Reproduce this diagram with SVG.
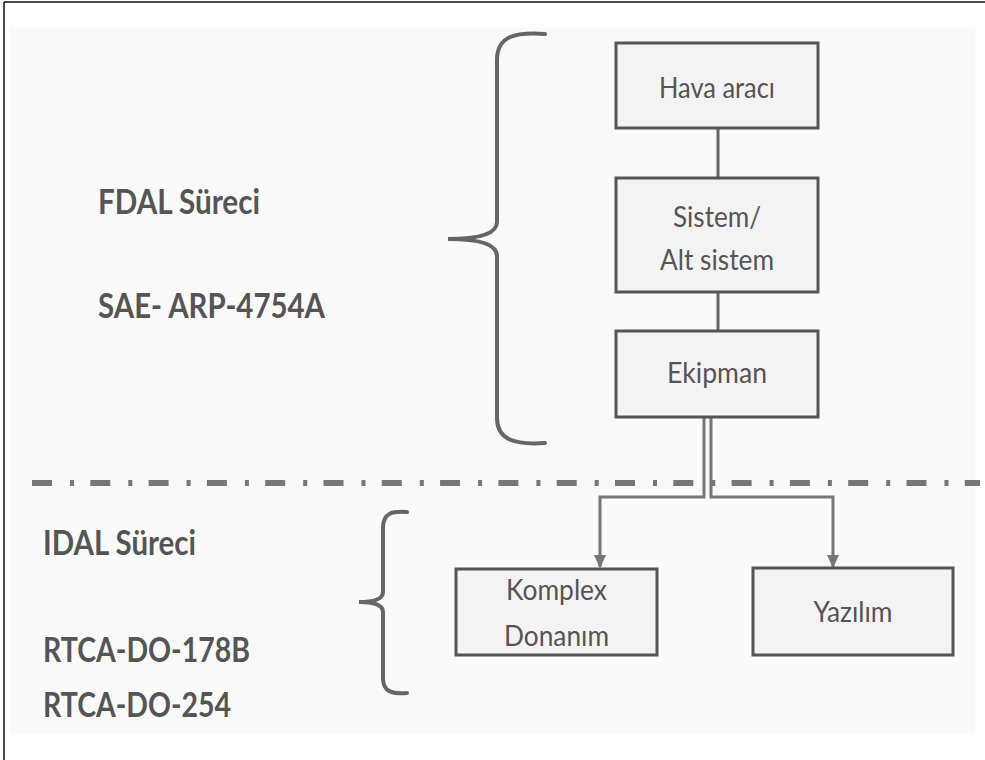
<svg xmlns="http://www.w3.org/2000/svg" width="985" height="760" viewBox="0 0 985 760">
<style>
.box{fill:#f3f3f3;stroke:#555;stroke-width:3}
.bt{font-family:Lato,"Open Sans","Liberation Sans",sans-serif;font-size:28.5px;fill:#555;text-anchor:middle}
.lbl{font-family:Lato,"Open Sans","Liberation Sans",sans-serif;font-weight:bold;font-size:35px;fill:#555}
.brace{fill:none;stroke:#666;stroke-width:4;stroke-linecap:round}
.conn{fill:none;stroke:#666;stroke-width:3}
.arr{fill:none;stroke:#777;stroke-width:3}
</style>
<defs>
<marker id="ah" markerUnits="userSpaceOnUse" markerWidth="14" markerHeight="14" viewBox="0 0 14 14" refX="12" refY="7" orient="auto">
<path d="M0,1 L13,7 L0,13 Z" fill="#777"/>
</marker>
</defs>
<rect x="0" y="0" width="985" height="760" fill="#ffffff"/>
<rect x="10" y="28" width="965" height="706" fill="#fafafa"/>
<line x1="4" y1="2" x2="4" y2="760" stroke="#111" stroke-width="1.5"/>
<line x1="4" y1="2" x2="985" y2="2" stroke="#111" stroke-width="1.5"/>
<line x1="32" y1="483" x2="980" y2="483" stroke="#777" stroke-width="6" stroke-dasharray="20 18 4 16.3"/>
<g id="brace-fdal"><path class="brace" d="M545,34 C515,32 497,36 497,60 L497,222 C497,234 480,239 448,239 C480,239 497,244 497,256 L497,418 C497,440 515,445 545,443"/></g>
<g id="brace-idal"><path class="brace" d="M407,512 C392,511 383,513 383,528 L383,592 C383,599 374,602 359,602 C374,602 383,605 383,612 L383,678 C383,692 392,694 407,693"/></g>
<g id="label-fdal"><text class="lbl" x="98" y="214" textLength="162" lengthAdjust="spacingAndGlyphs">FDAL Süreci</text><text class="lbl" x="98" y="318" textLength="227" lengthAdjust="spacingAndGlyphs">SAE- ARP-4754A</text></g>
<g id="label-idal"><text class="lbl" x="43" y="555" textLength="153" lengthAdjust="spacingAndGlyphs">IDAL Süreci</text><text class="lbl" x="43" y="662" textLength="207" lengthAdjust="spacingAndGlyphs">RTCA-DO-178B</text><text class="lbl" x="43" y="717" textLength="188" lengthAdjust="spacingAndGlyphs">RTCA-DO-254</text></g>
<g id="connectors">
<line class="conn" x1="718" y1="128" x2="718" y2="178"/>
<line class="conn" x1="718" y1="292" x2="718" y2="331"/>
<path class="arr" d="M704,418 V497 H600 V567" marker-end="url(#ah)"/>
<path class="arr" d="M711,418 V497 H833 V567" marker-end="url(#ah)"/>
</g>
<g id="hava-araci"><rect class="box" x="616" y="43" width="202" height="85"/><text class="bt" x="717" y="98" textLength="116" lengthAdjust="spacingAndGlyphs">Hava aracı</text></g>
<g id="sistem"><rect class="box" x="616" y="178" width="202" height="114"/><text class="bt" x="717" y="227" textLength="88" lengthAdjust="spacingAndGlyphs">Sistem/</text><text class="bt" x="717" y="270" textLength="114" lengthAdjust="spacingAndGlyphs">Alt sistem</text></g>
<g id="ekipman"><rect class="box" x="616" y="331" width="202" height="86"/><text class="bt" x="717" y="383" textLength="100" lengthAdjust="spacingAndGlyphs">Ekipman</text></g>
<g id="komplex-donanim"><rect class="box" x="456" y="569" width="201" height="86"/><text class="bt" x="556.5" y="600" textLength="101" lengthAdjust="spacingAndGlyphs">Komplex</text><text class="bt" x="556.5" y="646" textLength="105" lengthAdjust="spacingAndGlyphs">Donanım</text></g>
<g id="yazilim"><rect class="box" x="753" y="568" width="200" height="87"/><text class="bt" x="853" y="622" textLength="79" lengthAdjust="spacingAndGlyphs">Yazılım</text></g>
</svg>
